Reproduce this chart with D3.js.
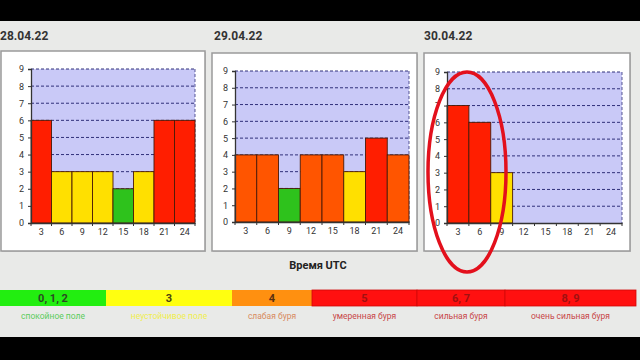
<!DOCTYPE html>
<html>
<head>
<meta charset="utf-8">
<script src="https://cdn.jsdelivr.net/npm/d3@7"></script>
<style>
  html, body { margin: 0; padding: 0; background: #000; }
  svg { display: block; }
</style>
</head>
<body>
<svg id="chart" width="640" height="360"></svg>
<script>
// Kp index per 3-hour interval, three consecutive days
const hours = [3, 6, 9, 12, 15, 18, 21, 24];
const days = ["28.04.22", "29.04.22", "30.04.22"];
const kp28 = [6, 3, 3, 3, 2, 3, 6, 6];
const kp29 = [4, 4, 2, 4, 4, 3, 5, 4];
const kp30 = [7, 6, 3];
const yTicks = [0, 1, 2, 3, 4, 5, 6, 7, 8, 9];

// Storm scale legend
const scaleLabels = ["0, 1, 2", "3", "4", "5", "6, 7", "8, 9"];
const scaleNames = ["спокойное поле", "неустойчивое поле", "слабая буря", "умеренная буря", "сильная буря", "очень сильная буря"];
const scaleStops = [0, 106, 232, 312, 417, 505, 636];

const kpColor = v => v <= 2 ? "#2ec21c" : v === 3 ? "#ffe000" : v === 4 ? "#ff5500" : "#ff1e00";
const bandFill = ["#22ee10", "#ffff10", "#ff9010", "#ff1010", "#ff1010", "#ff1010"];
const bandText = ["#2b4a22", "#4a4410", "#5a3010", "#a01010", "#a01010", "#a01010"];
const nameColor = ["#5ccc5c", "#f0ee50", "#d88a60", "#c84848", "#c84848", "#c84848"];

const svg = d3.select("#chart");
const font = "Roboto, 'Liberation Sans', Arial, sans-serif";

// page background with black bands top and bottom
svg.append("rect").attr("width", 640).attr("height", 360).attr("fill", "#000");
svg.append("rect").attr("x", 0).attr("y", 21).attr("width", 640).attr("height", 316).attr("fill", "#e9eae8");

const panels = [
  { title: days[0], data: kp28, tx: 0,   box: [1, 51, 205, 251],   plot: [31, 69, 195, 223] },
  { title: days[1], data: kp29, tx: 214, box: [212, 53, 417, 251], plot: [235, 71, 409, 222] },
  { title: days[2], data: kp30, tx: 424, box: [424, 53, 630, 251], plot: [447, 72, 622, 223] }
];

panels.forEach(p => {
  const g = svg.append("g");
  g.append("text").attr("x", p.tx).attr("y", 40)
    .attr("font-family", font).attr("font-weight", "bold").attr("font-size", 12)
    .attr("fill", "#333").text(p.title);

  const [bx0, by0, bx1, by1] = p.box;
  g.append("rect").attr("x", bx0 + 1).attr("y", by0 + 1).attr("width", bx1 - bx0).attr("height", by1 - by0)
    .attr("fill", "#c8c8c8");
  g.append("rect").attr("x", bx0).attr("y", by0).attr("width", bx1 - bx0).attr("height", by1 - by0)
    .attr("fill", "#fff").attr("stroke", "#9a9a9a").attr("stroke-width", 1.5);

  const [px0, py0, px1, py1] = p.plot;
  const x = d3.scaleBand().domain(hours).range([px0, px1]).padding(0);
  const y = d3.scaleLinear().domain([0, 9]).range([py1, py0]);

  g.append("rect").attr("x", px0).attr("y", py0).attr("width", px1 - px0).attr("height", py1 - py0)
    .attr("fill", "#c9c9f7");

  // dashed gridlines
  g.append("g").selectAll("line").data(yTicks.slice(1)).join("line")
    .attr("x1", px0).attr("x2", px1).attr("y1", d => y(d)).attr("y2", d => y(d))
    .attr("stroke", "#30307a").attr("stroke-width", 1).attr("stroke-dasharray", "3,2");
  g.append("line").attr("x1", px1).attr("x2", px1).attr("y1", py0).attr("y2", py1)
    .attr("stroke", "#30307a").attr("stroke-width", 0.8).attr("stroke-dasharray", "3,2");

  // bars
  g.append("g").selectAll("rect").data(p.data).join("rect")
    .attr("x", (d, i) => x(hours[i])).attr("y", d => y(d))
    .attr("width", x.bandwidth()).attr("height", d => y(0) - y(d))
    .attr("fill", d => kpColor(d)).attr("stroke", "#4a1a08").attr("stroke-width", 0.9);

  // axes
  const yAxis = d3.axisLeft(y).tickValues(yTicks).tickSize(3).tickPadding(4).tickFormat(d3.format("d"));
  const ya = g.append("g").attr("transform", `translate(${px0},0)`).call(yAxis);
  const xAxis = d3.axisBottom(x).tickSize(0).tickPadding(6);
  const xa = g.append("g").attr("transform", `translate(0,${py1})`).call(xAxis);
  [ya, xa].forEach(a => {
    a.select(".domain").attr("stroke", "#333").attr("stroke-width", 1.3);
    a.selectAll("text").attr("font-family", font).attr("font-size", 9).attr("fill", "#333");
    a.selectAll(".tick line").attr("stroke", "#333");
  });
  // tick marks between bands
  g.append("g").selectAll("line").data(d3.range(hours.length + 1)).join("line")
    .attr("x1", i => px0 + i * x.step()).attr("x2", i => px0 + i * x.step())
    .attr("y1", py1).attr("y2", py1 + 3).attr("stroke", "#333").attr("stroke-width", 1);
});

// axis title
svg.append("text").attr("x", 318).attr("y", 269).attr("text-anchor", "middle")
  .attr("font-family", font).attr("font-weight", "bold").attr("font-size", 11)
  .attr("fill", "#222").text("Время UTC");

// highlight ellipse
svg.append("ellipse").attr("cx", 467).attr("cy", 172).attr("rx", 39).attr("ry", 100)
  .attr("fill", "none").attr("stroke", "#e3101c").attr("stroke-width", 3.5);

// storm scale legend
const lg = svg.append("g");
lg.selectAll("rect").data(scaleLabels).join("rect")
  .attr("x", (d, i) => scaleStops[i]).attr("y", 290)
  .attr("width", (d, i) => scaleStops[i + 1] - scaleStops[i]).attr("height", 16)
  .attr("fill", (d, i) => bandFill[i]).attr("stroke", (d, i) => i >= 3 ? "#d00808" : "none").attr("stroke-width", 0.8);
lg.selectAll("text.v").data(scaleLabels).join("text").attr("class", "v")
  .attr("x", (d, i) => (scaleStops[i] + scaleStops[i + 1]) / 2).attr("y", 302)
  .attr("text-anchor", "middle").attr("font-family", font).attr("font-weight", "bold").attr("font-size", 11)
  .attr("fill", (d, i) => bandText[i]).text(d => d);
lg.selectAll("text.n").data(scaleNames).join("text").attr("class", "n")
  .attr("x", (d, i) => (scaleStops[i] + scaleStops[i + 1]) / 2).attr("y", 319)
  .attr("text-anchor", "middle").attr("font-family", font).attr("font-size", 8.5)
  .attr("fill", (d, i) => nameColor[i]).text(d => d);
</script>
</body>
</html>
